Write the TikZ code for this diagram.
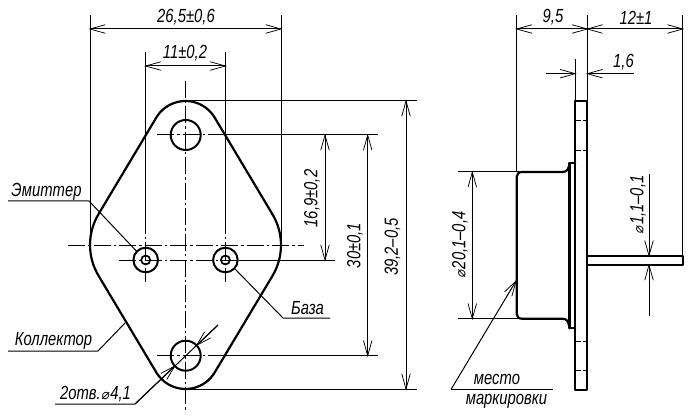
\documentclass[tikz,border=0pt]{standalone}
\usepackage{fontspec}
\usetikzlibrary{arrows.meta}
\setmainfont{Liberation Sans}[ItalicFont={Liberation Sans Italic},ItalicFeatures={FakeStretch=0.78}]
\newfontfamily\dejavu{DejaVu Sans}[FakeStretch=0.95,FakeSlant=0.15]
\newcommand{\dia}{{\dejavu\fontsize{14}{14}\selectfont ⌀}\kern1.5pt}
\pgfdeclarearrow{name=VeeTip,
  setup code={\pgfarrowssettipend{0pt}\pgfarrowssetlineend{-0.5pt}\pgfarrowssetbackend{-15pt}\pgfarrowssetvisualbackend{-15pt}},
  drawing code={\pgfsetdash{}{0pt}\pgfsetlinewidth{0.75pt}\pgfsetroundcap\pgfsetmiterjoin
    \pgfpathmoveto{\pgfqpoint{-15pt}{4.2pt}}\pgfpathlineto{\pgfqpoint{0pt}{0pt}}\pgfpathlineto{\pgfqpoint{-15pt}{-4.2pt}}\pgfusepathqstroke}}
\tikzset{
  thickl/.style={line width=2.2pt,line join=round,line cap=round},
  thinl/.style={line width=1pt},
  axisl/.style={line width=1pt,dash pattern=on 17pt off 3pt on 2.5pt off 3pt},
  dim/.style={thinl,VeeTip-VeeTip},
  tipend/.style={thinl,-VeeTip},
  lab/.style={inner sep=0pt,font=\fontsize{19}{20}\selectfont\itshape},
}
\begin{document}
\begin{tikzpicture}[x=1pt,y=-1pt]
\useasboundingbox (0,0) rectangle (700,419);
\fill[white] (0,0) rectangle (700,419);
% ---- front view: axes
\draw[axisl] (185.7,81) -- (185.7,410);
\draw[axisl] (68,245.7) -- (304,245.7);
\draw[axisl] (119,260) -- (239,260);
\draw[axisl] (157,135) -- (226,135);
\draw[axisl] (157,355.7) -- (226,355.7);
\draw[axisl] (145.7,217) -- (145.7,282);
\draw[axisl] (225.4,217) -- (225.4,282);
% extension lines
\draw[thinl] (90,15) -- (90,245.7);
\draw[thinl] (281,15) -- (281,245.7);
\draw[thinl] (145.7,52) -- (145.7,217);
\draw[thinl] (225.4,52) -- (225.4,217);
\draw[thinl] (185.7,101) -- (417,101);
\draw[thinl] (185.7,389) -- (417,389);
\draw[thinl] (216,135) -- (378,135);
\draw[thinl] (226,355.7) -- (378,355.7);
\draw[thinl] (239,260) -- (335,260);
% outline
\draw[thickl] (156.4,117.4) arc[start angle=211.2,end angle=328.8,radius=34]
  -- (272.3,214) arc[start angle=-31.2,end angle=31.2,radius=60]
  -- (214.6,372.6) arc[start angle=31.2,end angle=148.8,radius=34]
  -- (98.7,276) arc[start angle=148.8,end angle=211.2,radius=60] -- cycle;
% holes and pins
\draw[line width=2pt] (185.7,135) circle[radius=15];
\draw[line width=2pt] (185.7,355.7) circle[radius=15];
\draw[line width=2pt] (145.7,260) circle[radius=12.3];
\draw[line width=2pt] (225.4,260) circle[radius=12.3];
\draw[line width=1.7pt] (145.7,260) circle[radius=4.5];
\draw[line width=1.7pt] (225.4,260) circle[radius=4.5];
% dimensions front view
\coordinate (d1a) at (90,29); \coordinate (d1b) at (281,29);
\draw[dim] (d1a) -- (d1b);
\coordinate (d2a) at (145.7,66); \coordinate (d2b) at (225.4,66);
\draw[dim] (d2a) -- (d2b);
\coordinate (d3a) at (325,135); \coordinate (d3b) at (325,260);
\draw[dim] (d3a) -- (d3b);
\coordinate (d4a) at (367.7,135); \coordinate (d4b) at (367.7,355.7);
\draw[dim] (d4a) -- (d4b);
\coordinate (d5a) at (406,101); \coordinate (d5b) at (406,389);
\draw[dim] (d5a) -- (d5b);
\node[lab] (t1) at (186,17.5) {26,5±0,6};
\node[lab] (t2) at (185,53.5) {11±0,2};
\node[lab,rotate=90] (t3) at (312,198.5) {16,9±0,2};
\node[lab,rotate=90] (t4) at (355,245.5) {30±0,1};
\node[lab,rotate=90] (t5) at (392.5,247) {39,2–0,5};
% leaders
\node[lab] (em) at (46.5,192) {Эмиттер};
\draw[thinl] (8,201) -- (89,201) -- (136.8,251.5);
\node[lab] (ba) at (307.5,308) {База};
\draw[thinl] (330,318) -- (283,318) -- (235,269);
\node[lab] (ko) at (53.5,341) {Коллектор};
\draw[thinl] (8,351) -- (98,351) -- (125,323);
\node[lab] (ot) at (95.5,394) {2отв.\dia 4,1};
\coordinate (h1) at (174.8,366); \coordinate (h2) at (196.6,345.3);
\coordinate (h3) at (218,325);
\draw[thinl] (55,404) -- (135,404) -- (h3);
\draw[tipend] (135,404) -- (h1);
\draw[tipend] (h3) -- (h2);
% ---- side view
\draw[thinl] (516.7,15) -- (516.7,172);
\draw[thinl] (587.3,15) -- (587.3,101);
\draw[thinl] (682.7,15) -- (682.7,256);
\draw[thinl] (575.3,59) -- (575.3,101);
\draw[thinl] (458,172) -- (522,172);
\draw[thinl] (458,318.7) -- (522,318.7);
\draw[thickl] (575.3,101) rectangle (587.3,390);
\draw[thickl] (587.3,255.7) rectangle (683,265);
\draw[thickl] (575.3,163) -- (569.5,163) -- (569.5,328.3) -- (575.3,328.3);
\draw[thickl] (569.5,163) .. controls (568.5,170) and (567,172) .. (562,172) -- (522,172)
  .. controls (518.5,172) and (516.7,174) .. (516.7,177) -- (516.7,313.7)
  .. controls (516.7,316.7) and (518.5,318.7) .. (522,318.7) -- (562,318.7)
  .. controls (567,318.7) and (568.5,321) .. (569.5,328.3);
\foreach \yy in {120.7,150.7,341,370.7}
  \draw[thinl,dash pattern=on 5pt off 2pt] (576.3,\yy) -- (586.3,\yy);
\coordinate (s1a) at (516.7,29); \coordinate (s1b) at (587.3,29); \coordinate (s1c) at (682.7,29);
\draw[dim] (s1a) -- (s1b);
\draw[dim] (s1b) -- (s1c);
\node[lab] (t6) at (553,17.5) {9,5};
\node[lab] (t7) at (636,17.5) {12±1};
\coordinate (s2a) at (546,73.7); \coordinate (s2b) at (575.3,73.7);
\coordinate (s2c) at (634,73.7); \coordinate (s2d) at (587.3,73.7);
\draw[tipend] (s2a) -- (s2b);
\draw[tipend] (s2c) -- (s2d);
\node[lab] (t8) at (623.5,62) {1,6};
\coordinate (s3a) at (472.3,172); \coordinate (s3b) at (472.3,318.7);
\draw[dim] (s3a) -- (s3b);
\node[lab,rotate=90] (t9) at (460,245) {\dia 20,1–0,4};
\coordinate (s4a) at (649,174); \coordinate (s4b) at (649,255.7);
\coordinate (s4c) at (649,316); \coordinate (s4d) at (649,265);
\draw[tipend] (s4a) -- (s4b);
\draw[tipend] (s4c) -- (s4d);
\node[lab,rotate=90] (t10) at (638,205) {\dia 1,1–0,1};
\coordinate (m1) at (516,281);
\draw[thinl] (553,389.5) -- (451,389.5);
\draw[tipend] (451,389.5) -- (m1);
\node[lab] (t11) at (497,379) {место};
\node[lab] (t12) at (506.5,401) {маркировки};
\end{tikzpicture}
\end{document}
